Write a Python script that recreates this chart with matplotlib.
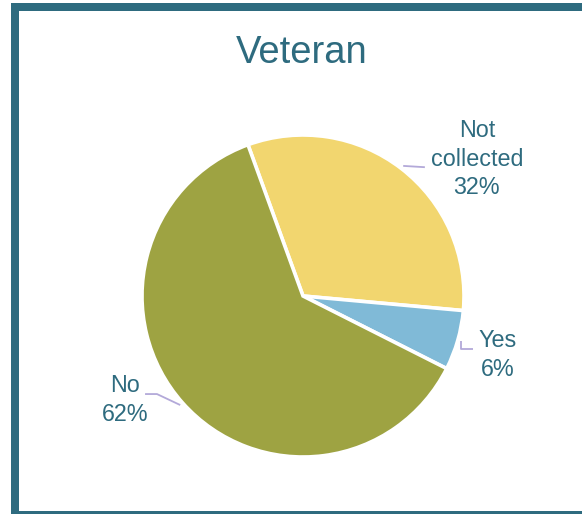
import numpy as np
import matplotlib
matplotlib.use('Agg')
import matplotlib.pyplot as plt
from matplotlib.patches import Rectangle

# ── Data ─────────────────────────────────────────────────────────────────────
labels = ['Not\ncollected', 'Yes', 'No']
shares = [32, 6, 62]
colors = ['#F2D66F', '#80BAD7', '#9EA342']
# ─────────────────────────────────────────────────────────────────────────────

TEAL = '#2E6B7F'
LEADER = '#B3A9D9'
W, H = 582, 514
CX, CY, R = 303, 296, 161   # pie centre / radius in pixels (from top-left)

plt.rcParams['font.family'] = ['Liberation Sans', 'DejaVu Sans']

fig = plt.figure(figsize=(W / 100, H / 100), dpi=100)
fig.patch.set_facecolor('white')
ax = fig.add_axes([0, 0, 1, 1])

start = 110
wedges, _ = ax.pie(shares, colors=colors, startangle=start, counterclock=False,
                   radius=1, center=(0, 0), frame=True,
                   wedgeprops=dict(edgecolor='white', linewidth=2.6))
ax.set_xlim(-CX / R, (W - CX) / R)
ax.set_ylim(-(H - CY) / R, CY / R)
ax.set_aspect('equal')
ax.axis('off')

# label block centres and leader-line elbows (layout, data units)
text_pos = [(1.08, 0.85), (1.208, -0.367), (-1.106, -0.646)]
elbows = [
    [(0.757, 0.80)],
    [(None, -0.328), (1.056, -0.328)],
    [(-0.907, -0.609), (-0.981, -0.609)],
]

for w, lab, share, pos, elb in zip(wedges, labels, shares, text_pos, elbows):
    mid = np.deg2rad((w.theta1 + w.theta2) / 2)
    x0, y0 = 1.02 * np.cos(mid), 1.02 * np.sin(mid)
    xs, ys = [x0], [y0]
    for ex, ey in elb:
        xs.append(xs[-1] if ex is None else ex)
        ys.append(ey)
    ax.plot(xs, ys, color=LEADER, lw=1.3, solid_capstyle='butt', zorder=4)
    ax.text(pos[0], pos[1], f'{lab}\n{share}%', ha='center', va='center',
            fontsize=16.8, color=TEAL, linespacing=1.3)

fig.text(301.5 / W, 1 - 63 / H, 'Veteran', ha='center', va='baseline',
         fontsize=27.5, color=TEAL)

# dark frame (top, left, bottom)
for x, y, w_, h_ in [(11, 3, W - 11, 8), (11, 3, 8, H - 3), (11, 511, W - 11, 3)]:
    fig.add_artist(Rectangle((x / W, 1 - (y + h_) / H), w_ / W, h_ / H,
                             transform=fig.transFigure, facecolor=TEAL,
                             edgecolor='none'))

plt.savefig('out.png', dpi=100, facecolor='white')
